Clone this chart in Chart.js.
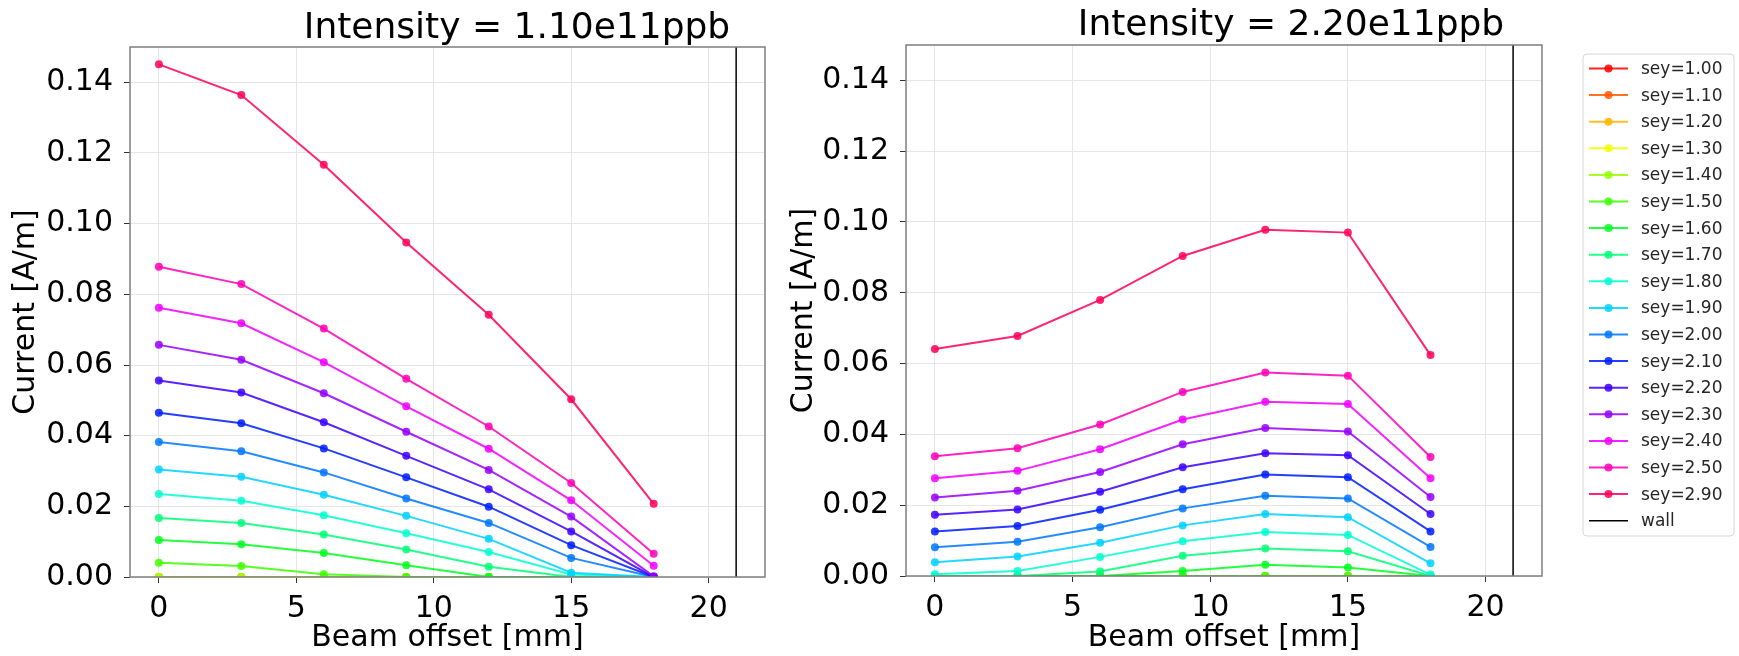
<!DOCTYPE html>
<html>
<head>
<meta charset="utf-8">
<title>Beam offset scan</title>
<script src="https://cdn.jsdelivr.net/npm/chart.js@4.4.1/dist/chart.umd.min.js"></script>
<style>
    html, body { margin: 0; padding: 0; background: #fff; }
    body { width: 1739px; height: 656px; position: relative; overflow: hidden; }
    canvas { position: absolute; top: 0; }
    #chart_low { left: 0; }
    #chart_high { left: 780px; }
</style>
</head>
<body>
<canvas id="chart_low" width="780" height="656"></canvas>
<canvas id="chart_high" width="959" height="656"></canvas>
<script>
// beam offset [mm]
const offsets = [0, 3, 6, 9, 12, 15, 18]
const wallPosition = 21

const seyLabels = ['sey=1.00', 'sey=1.10', 'sey=1.20', 'sey=1.30', 'sey=1.40', 'sey=1.50',
    'sey=1.60', 'sey=1.70', 'sey=1.80', 'sey=1.90', 'sey=2.00', 'sey=2.10', 'sey=2.20',
    'sey=2.30', 'sey=2.40', 'sey=2.50', 'sey=2.90']

const xTicks = [0, 5, 10, 15, 20]
const yTicks = [0, 0.02, 0.04, 0.06, 0.08, 0.10, 0.12, 0.14]

// current [A/m], intensity 1.10e11 ppb, one row per sey
const currentLow = [
    [0, 0, 0, 0, 0, 0, 0],
    [0, 0, 0, 0, 0, 0, 0],
    [0, 0, 0, 0, 0, 0, 0],
    [0, 0, 0, 0, 0, 0, 0],
    [0, 0, 0, 0, 0, 0, 0],
    [0.0040, 0.0031, 0.0008, 0, 0, 0, 0],
    [0.0105, 0.0093, 0.0068, 0.0033, 0, 0, 0],
    [0.0167, 0.0153, 0.0120, 0.0078, 0.0029, 0, 0],
    [0.0235, 0.0216, 0.0175, 0.0124, 0.0071, 0.0007, 0],
    [0.0304, 0.0284, 0.0233, 0.0173, 0.0108, 0.0012, 0],
    [0.0382, 0.0356, 0.0296, 0.0222, 0.0153, 0.0054, 0],
    [0.0465, 0.0435, 0.0364, 0.0282, 0.0199, 0.0090, 0],
    [0.0556, 0.0522, 0.0438, 0.0343, 0.0248, 0.0129, 0],
    [0.0657, 0.0615, 0.0520, 0.0411, 0.0303, 0.0171, 0.0002],
    [0.0762, 0.0718, 0.0608, 0.0483, 0.0363, 0.0217, 0.0032],
    [0.0878, 0.0829, 0.0703, 0.0561, 0.0426, 0.0266, 0.0066],
    [0.1451, 0.1364, 0.1167, 0.0947, 0.0742, 0.0503, 0.0207]
]

// current [A/m], intensity 2.20e11 ppb
const currentHigh = [
    [0, 0, 0, 0, 0, 0, 0],
    [0, 0, 0, 0, 0, 0, 0],
    [0, 0, 0, 0, 0, 0, 0],
    [0, 0, 0, 0, 0, 0, 0],
    [0, 0, 0, 0, 0, 0, 0],
    [0, 0, 0, 0, 0, 0, 0],
    [0, 0, 0, 0.0014, 0.0032, 0.0024, 0],
    [0, 0, 0.0013, 0.0057, 0.0078, 0.0070, 0],
    [0.0005, 0.0014, 0.0054, 0.0098, 0.0124, 0.0116, 0.0004],
    [0.0039, 0.0055, 0.0094, 0.0143, 0.0175, 0.0166, 0.0036],
    [0.0081, 0.0097, 0.0138, 0.0191, 0.0227, 0.0219, 0.0082],
    [0.0126, 0.0141, 0.0187, 0.0245, 0.0287, 0.0279, 0.0126],
    [0.0173, 0.0188, 0.0238, 0.0307, 0.0347, 0.0341, 0.0175],
    [0.0222, 0.0241, 0.0294, 0.0372, 0.0418, 0.0408, 0.0223],
    [0.0276, 0.0297, 0.0358, 0.0442, 0.0492, 0.0486, 0.0276],
    [0.0338, 0.0361, 0.0428, 0.0520, 0.0575, 0.0566, 0.0336],
    [0.0641, 0.0678, 0.0780, 0.0904, 0.0978, 0.0970, 0.0624]
]

Chart.defaults.font.family = "'DejaVu Sans', sans-serif"
Chart.defaults.color = '#000'

// hsv-like colour wheel, one colour per sey, a bit washed out like the plot
function seyColor(i, n){
    const h = i * 360 / n
    return 'hsla(' + h.toFixed(1) + ', 100%, 50%, 0.86)'
}

const framePlugin = {
    id: 'frame',
    afterDatasetsDraw: function (chart){
        const a = chart.chartArea
        const ctx = chart.ctx
        ctx.save()
        ctx.strokeStyle = '#7f7f7f'
        ctx.lineWidth = 1.5
        ctx.strokeRect(a.left, a.top, a.right - a.left, a.bottom - a.top)
        ctx.restore()
    }
}

const panelTitle = {
    id: 'panelTitle',
    afterDraw: function (chart, args, opts){
        if(!opts.text) return
        const ctx = chart.ctx
        ctx.save()
        ctx.font = opts.size + "px 'DejaVu Sans', sans-serif"
        ctx.fillStyle = '#000'
        ctx.textAlign = 'center'
        ctx.textBaseline = 'alphabetic'
        ctx.fillText(opts.text, opts.x, opts.y)
        ctx.restore()
    }
}

const sideLegend = {
    id: 'sideLegend',
    afterDraw: function (chart, args, opts){
        if(!opts.show) return
        const ctx = chart.ctx
        const sets = chart.data.datasets
        ctx.save()
        ctx.beginPath()
        ctx.roundRect(opts.left, opts.top, opts.width, opts.height, 4)
        ctx.fillStyle = 'rgba(255,255,255,0.8)'
        ctx.fill()
        ctx.strokeStyle = '#d6d6d6'
        ctx.lineWidth = 1
        ctx.stroke()
        ctx.font = opts.size + "px 'DejaVu Sans', sans-serif"
        ctx.textBaseline = 'middle'
        ctx.textAlign = 'left'
        for (let i = 0; i < sets.length; i++){
            const ds = sets[i]
            const y = opts.top + opts.first + i * opts.gap
            const x0 = opts.left + 6
            const x1 = x0 + 39
            ctx.strokeStyle = ds.borderColor
            ctx.lineWidth = ds.borderWidth
            ctx.beginPath()
            ctx.moveTo(x0, y)
            ctx.lineTo(x1, y)
            ctx.stroke()
            if(ds.pointRadius > 0){
                ctx.fillStyle = ds.borderColor
                ctx.beginPath()
                ctx.arc((x0 + x1) / 2, y, ds.pointRadius, 0, Math.PI * 2)
                ctx.fill()
            }
            ctx.fillStyle = '#262626'
            ctx.fillText(ds.label, opts.left + 58, y + 1)
        }
        ctx.restore()
    }
}

function buildDatasets(rows){
    const sets = []
    for (let i = 0; i < rows.length; i++){
        const color = seyColor(i, rows.length)
        sets.push({
            label: seyLabels[i],
            data: offsets.map((x, j) => ({x: x, y: rows[i][j]})),
            borderColor: color,
            backgroundColor: color,
            pointBackgroundColor: color,
            pointBorderWidth: 0,
            pointRadius: 4,
            borderWidth: 2,
            tension: 0,
            clip: 0,
            order: rows.length - i + 1
        })
    }
    sets.push({
        label: 'wall',
        data: [{x: wallPosition, y: 0}, {x: wallPosition, y: 0.15}],
        borderColor: '#000',
        backgroundColor: '#000',
        borderWidth: 1.5,
        pointRadius: 0,
        clip: 0,
        order: 1
    })
    return sets
}

function createPanel(canvasId, rows, title, geom){
    return new Chart($id(canvasId), {
        type: 'line',
        data: {datasets: buildDatasets(rows)},
        options: {
            responsive: false,
            animation: false,
            devicePixelRatio: 1,
            layout: {padding: {left: 0, top: geom.top, right: geom.right, bottom: 0}},
            plugins: {
                legend: {display: false},
                tooltip: {enabled: false},
                title: {display: false},
                panelTitle: {text: title, x: geom.titleX, y: geom.titleY, size: 36},
                sideLegend: geom.legend || {show: false}
            },
            scales: {
                x: {
                    type: 'linear',
                    min: -1.05,
                    max: 22.05,
                    afterBuildTicks: function (scale){
                        scale.ticks = xTicks.map(v => ({value: v}))
                    },
                    afterFit: function (scale){
                        scale.height = geom.xHeight
                    },
                    ticks: {
                        font: {size: 30},
                        padding: 8,
                        maxRotation: 0,
                        callback: v => String(v)
                    },
                    grid: {color: '#e6e6e6', lineWidth: 1, tickColor: '#333', tickLength: 6},
                    border: {display: false},
                    title: {display: true, text: 'Beam offset [mm]', font: {size: 30}, padding: {top: 0, bottom: 0}}
                },
                y: {
                    type: 'linear',
                    min: 0,
                    max: 0.15,
                    afterBuildTicks: function (scale){
                        scale.ticks = yTicks.map(v => ({value: v}))
                    },
                    afterFit: function (scale){
                        scale.width = geom.yWidth
                    },
                    ticks: {
                        font: {size: 30},
                        padding: 11,
                        callback: v => v.toFixed(2)
                    },
                    grid: {color: '#e6e6e6', lineWidth: 1, tickColor: '#333', tickLength: 6},
                    border: {display: false},
                    title: {display: true, text: 'Current [A/m]', font: {size: 30}, padding: {top: geom.yTitlePad, bottom: 0}}
                }
            }
        },
        plugins: [framePlugin, panelTitle, sideLegend]
    })
}

function $id(id){
    return document.getElementById(id)
}

createPanel('chart_low', currentLow, 'Intensity = 1.10e11ppb', {
    top: 47, right: 15, xHeight: 79, yWidth: 130, yTitlePad: 8,
    titleX: 517, titleY: 38
})

createPanel('chart_high', currentHigh, 'Intensity = 2.20e11ppb', {
    top: 45, right: 197, xHeight: 80, yWidth: 126, yTitlePad: 6,
    titleX: 511, titleY: 35,
    legend: {show: true, left: 803, top: 54, width: 151, height: 482, first: 14.5, gap: 26.6, size: 17}
})
</script>
</body>
</html>
